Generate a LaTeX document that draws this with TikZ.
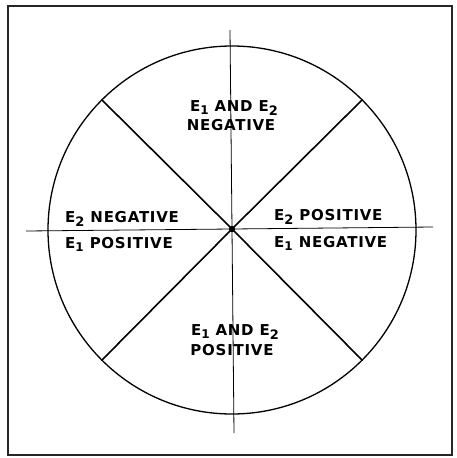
\documentclass[tikz,border=0pt]{standalone}
\usepackage{fontspec}
\setmainfont{DejaVu Sans}
\newcommand\subone{\raisebox{-3.5pt}{\fontsize{12}{12}\selectfont 1}}
\newcommand\subtwo{\raisebox{-4.5pt}{\fontsize{13}{13}\selectfont 2}}
\tikzset{
  lbl/.style={font=\fontsize{15}{18}\selectfont\bfseries\addfontfeatures{LetterSpace=5}, inner sep=0pt},
  frameline/.style={line width=1.6pt, draw=black!85},
  rim/.style={line width=1.3pt},
  diag/.style={line width=1.6pt},
  axis/.style={line width=0.8pt},
}
\begin{document}
\begin{tikzpicture}[x=1pt,y=-1pt]
\useasboundingbox (0,0) rectangle (457,458);
\draw[frameline] (8,6) rectangle (452,455);
\node[circle, draw, rim, minimum size=368pt, inner sep=0pt] (c) at (232,230) {};
\coordinate (O) at (232,229);
\coordinate (vt) at (230,30);
\coordinate (vb) at (234,433);
\coordinate (hl) at (26,231);
\coordinate (hr) at (433,227);
\draw[axis] (vt) -- (O) -- (vb);
\draw[axis] (hl) -- (O) -- (hr);
\draw[diag] (c.135) -- (O) -- (c.-45);
\draw[diag] (c.45) -- (O) -- (c.-135);
\fill (O) circle (3.2pt);
% top
\node[lbl, anchor=base] (t1) at (234,111) {E\subone{} AND E\subtwo};
\node[lbl, anchor=base] (t2) at (231,130) {NEGATIVE};
% left
\node[lbl, anchor=base west] (l1) at (65,222) {E\subtwo{} NEGATIVE};
\node[lbl, anchor=base west] (l2) at (65,248) {E\subone{} POSITIVE};
% right
\node[lbl, anchor=base west] (r1) at (274,220) {E\subtwo{} POSITIVE};
\node[lbl, anchor=base west] (r2) at (274,247) {E\subone{} NEGATIVE};
% bottom
\node[lbl, anchor=base] (b1) at (235,335) {E\subone{} AND E\subtwo};
\node[lbl, anchor=base] (b2) at (232,355) {POSITIVE};
\end{tikzpicture}
\end{document}
